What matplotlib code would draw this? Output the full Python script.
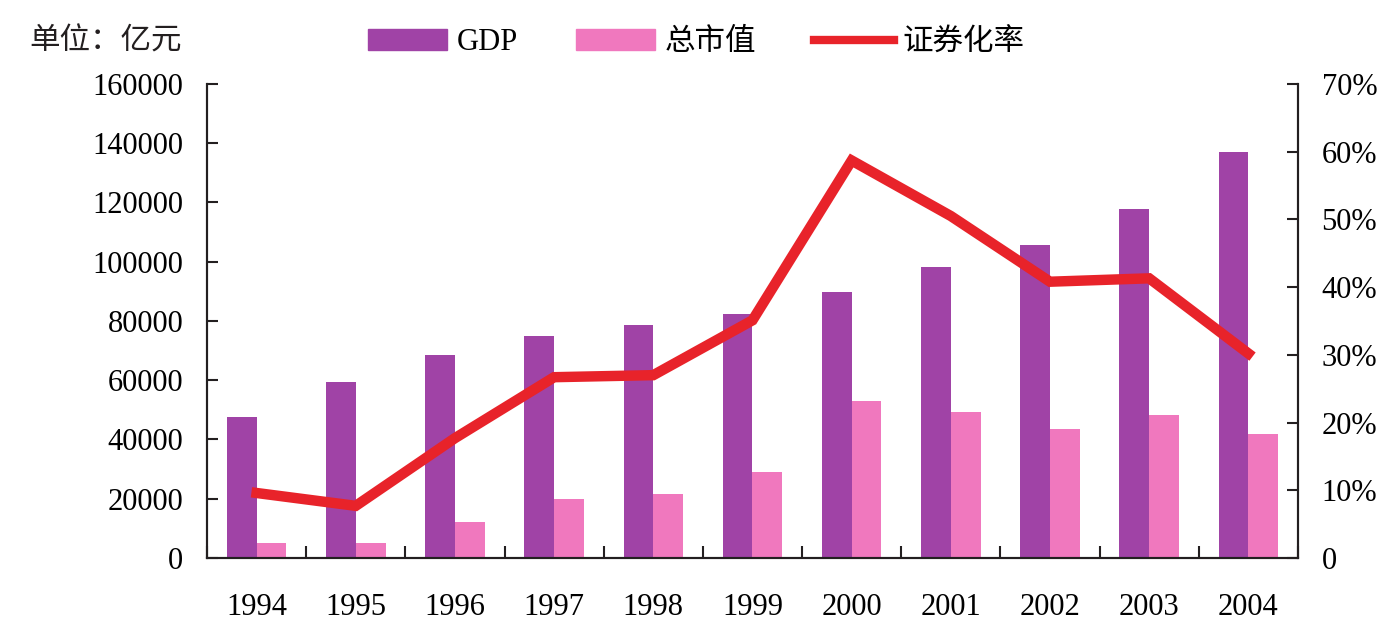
import numpy as np
import matplotlib
matplotlib.use('Agg')
import matplotlib.pyplot as plt
from matplotlib.patches import Patch
from matplotlib.lines import Line2D

plt.rcParams['font.family'] = ['Liberation Serif', 'Noto Sans CJK SC']

years = ['1994', '1995', '1996', '1997', '1998', '1999',
         '2000', '2001', '2002', '2003', '2004']
gdp = [47500, 59400, 68600, 75100, 78800, 82400,
       89900, 98200, 105600, 117700, 137000]
market_cap = [5000, 5000, 12300, 19800, 21600, 29100,
              53000, 49300, 43700, 48400, 41900]
sec_rate = [9.6, 7.7, 17.7, 26.7, 27.0, 35.1,
            58.7, 50.5, 40.8, 41.3, 30.2]

c_gdp = '#A043A6'
c_cap = '#F078BE'
c_rate = '#E8232A'
c_axis = '#231F20'
fs = 22

fig = plt.figure(figsize=(13.94, 6.3), dpi=100)
ax = fig.add_axes([0.1485, 0.1143, 0.7826, 0.7524])
x = np.arange(len(years))
w = 0.3
ax.bar(x - w / 2, gdp, width=w, color=c_gdp, zorder=2)
ax.bar(x + w / 2, market_cap, width=w, color=c_cap, zorder=2)

ax.set_xlim(-0.5, len(years) - 0.5)
ax.set_ylim(0, 160000)
ax.set_yticks(np.arange(0, 160001, 20000))
ax.set_yticklabels([str(v) for v in range(0, 160001, 20000)])
ax.set_xticks(x)
ax.set_xticklabels(years)
ax.set_xticks(np.arange(-0.5, len(years), 1.0), minor=True)
ax.tick_params(axis='x', which='major', length=0, pad=25, labelsize=fs)
ax.tick_params(axis='x', which='minor', direction='in', length=9, width=1.5, color=c_axis)
ax.tick_params(axis='y', direction='in', length=8, width=1.5, pad=17,
               labelsize=fs, color=c_axis)

ax2 = ax.twinx()
ax2.plot(x, sec_rate, color=c_rate, lw=7.5, solid_joinstyle='miter', zorder=3)
ax2.set_ylim(0, 70)
ax2.set_yticks(np.arange(0, 71, 10))
ax2.set_yticklabels(['0'] + [f'{v}%' for v in range(10, 71, 10)])
ax2.tick_params(axis='y', direction='in', length=8, width=1.5, pad=17,
                labelsize=fs, color=c_axis)

for a in (ax, ax2):
    a.spines['top'].set_visible(False)
    for s in ('left', 'right', 'bottom'):
        a.spines[s].set_linewidth(1.5)
        a.spines[s].set_color(c_axis)

handles = [Patch(color=c_gdp, label='GDP'),
           Patch(color=c_cap, label='总市值'),
           Line2D([], [], color=c_rate, lw=6, label='证券化率')]
fig.legend(handles=handles, ncol=3, loc='center left',
           bbox_to_anchor=(0.264, 0.932), frameon=False, fontsize=fs,
           handlelength=2.6, handletextpad=0.3, columnspacing=1.9,
           borderaxespad=0, borderpad=0)

fig.text(0.021, 0.933, '单位：亿元', fontsize=fs, va='center', ha='left', color=c_axis)

fig.savefig('out.png', dpi=100)
